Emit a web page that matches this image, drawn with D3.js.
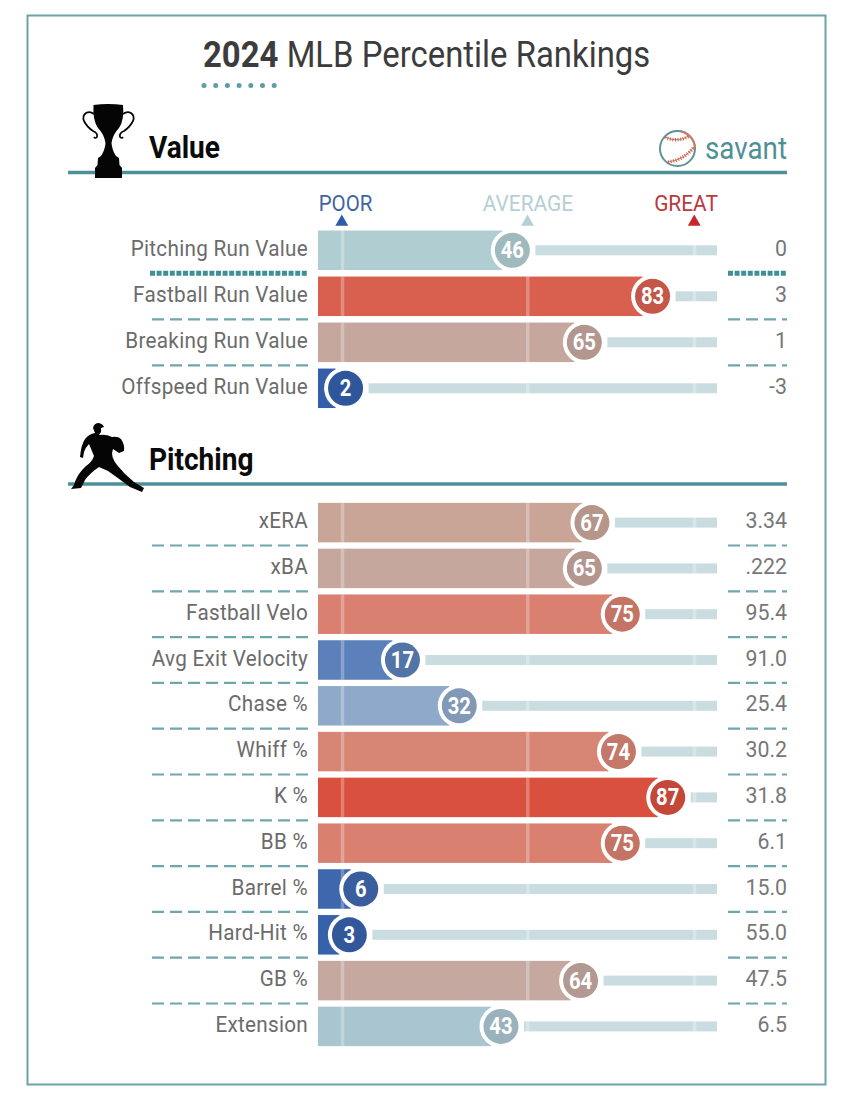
<!DOCTYPE html>
<html><head><meta charset="utf-8">
<script src="https://cdnjs.cloudflare.com/ajax/libs/d3/7.8.5/d3.min.js"></script>
<style>html,body{margin:0;padding:0;background:#fff}svg{display:block}text{font-family:Roboto,sans-serif}</style>
</head><body><svg id="c" width="850" height="1101"></svg>
<script>
const valueMetrics = ["Pitching Run Value","Fastball Run Value","Breaking Run Value","Offspeed Run Value"];
const valuePercentiles = [46,83,65,2];
const valueStats = ["0","3","1","-3"];
const pitchingMetrics = ["xERA","xBA","Fastball Velo","Avg Exit Velocity","Chase %","Whiff %","K %","BB %","Barrel %","Hard-Hit %","GB %","Extension"];
const pitchingPercentiles = [67,65,75,17,32,74,87,75,6,3,64,43];
const pitchingStats = ["3.34",".222","95.4","91.0","25.4","30.2","31.8","6.1","15.0","55.0","47.5","6.5"];
const guideLabels = ["POOR","AVERAGE","GREAT"];
const guideValues = [1,50,94];
const colorStops = [0,17,32,46,65,67,75,87,100];
const colorValues = ["#2f5aa8","#5c80b9","#8ea9c9","#b0cdd1","#c6a79e","#c9a598","#d98070","#d9503f","#d0302a"];

const svg = d3.select("#c");
const TEAL="#4b9198", DASH="#6ea6ad";
const x = d3.scaleLinear().domain([0,100]).range([338,717]);
const color = d3.scaleLinear().domain(colorStops).range(colorValues);
const rowsV = d3.scaleBand().domain(valueMetrics).range([227.3,411.3]).paddingInner(0);
const rowsP = d3.scaleBand().domain(pitchingMetrics).range([499.7,1049.3]).paddingInner(0);
const BAR=39.5, LEFT=318;

function ctext(parent,t,xx,y,size,fill,weight,anchor,sx){
  return parent.append("text").text(t).attr("transform",`translate(${xx},${y}) scale(${sx},1)`)
    .attr("font-size",size).attr("fill",fill).attr("font-weight",weight||400).attr("text-anchor",anchor||"start");
}
// frame
svg.append("rect").attr("x",27.5).attr("y",15.5).attr("width",798).attr("height",1069).attr("fill","#fff").attr("stroke","#6ba3a9").attr("stroke-width",2);
// title
const title = svg.append("text").attr("transform","translate(203,67) scale(.889,1)").attr("font-size",37).attr("fill","#3c3c3c");
title.append("tspan").attr("font-weight",700).text("2024");
title.append("tspan").text(" MLB Percentile Rankings");
svg.append("line").attr("x1",204).attr("x2",276).attr("y1",85.5).attr("y2",85.5).attr("stroke","#5a9ea6").attr("stroke-width",5).attr("stroke-linecap","round").attr("stroke-dasharray","0 11.7");

// section heads
function section(name,y,ty){
  svg.append("line").attr("x1",68).attr("x2",787).attr("y1",y).attr("y2",y).attr("stroke",TEAL).attr("stroke-width",3.5);
  ctext(svg,name,149,ty,31,"#0a0a0a",700,"start",.905);
}
section("Value",172.5,158);
section("Pitching",484,470);
// trophy icon
svg.append("path").attr("fill","#050505").attr("d","M93.5 105 Q108 103 123 105 Q124.5 120 119 128 Q113 134 111.5 143 Q112 150 116 156 L119 158 L119.5 165 L122 168 L122 178 L95 178 L95 168 L97.5 165 L98 158 L101 156 Q105 150 105.5 143 Q104 134 98 128 Q92.5 120 93.5 105Z");
svg.append("path").attr("fill","none").attr("stroke","#050505").attr("stroke-width",1.7)
 .attr("d","M94 114 Q90 111 86 113 Q82 116 84 121 Q87 127 93 131 Q98 133 97 137 Q95 139 94 137 M123 114 Q127 111 131 113 Q135 116 133 121 Q130 127 124 131 Q119 133 120 137 Q122 139 123 137");
// pitcher icon
svg.append("path").attr("fill","#050505").attr("d","M93 428 Q94 423 99 423 Q103 424 104 427 L101 428 L101 432 L99 435 Q106 434 112 437 Q118 436 121 439 Q125 445 124 451 L119 453 L113 449 Q110 456 117 465 Q125 475 134 482 L144 488 L142 492 L130 487 Q118 478 108 471 L99 467 Q90 473 85 480 L81 488 L71 489 L74 485 Q77 474 86 466 Q92 462 94 456 L89 444 Q85 448 84 452 L83 458 L80 457 Q81 445 85 439 Q89 434 95 433 Z");
// savant logo
svg.append("circle").attr("cx",677.5).attr("cy",148.5).attr("r",17.5).attr("fill","#fff").attr("stroke","#5f9398").attr("stroke-width",2);
svg.append("path").attr("fill","none").attr("stroke","#cf7b62").attr("stroke-width",2).attr("d","M681 131.5 A17.5 17.5 0 0 1 695 148");
const seam="M665 137 Q677 143 689 136 M668 162 Q684 160 694 147";
svg.append("path").attr("fill","none").attr("stroke","#d27a66").attr("stroke-width",1).attr("d",seam);
svg.append("path").attr("fill","none").attr("stroke","#c9604e").attr("stroke-width",3.5).attr("stroke-dasharray","1 1.6").attr("d",seam);
svg.append("text").attr("x",705).attr("y",159).attr("font-size",31).attr("fill","#4f9097").text("savant").attr("textLength",82).attr("lengthAdjust","spacingAndGlyphs");

// guide labels
const guideColors=["#3f659f","#b5cfd4","#b83a3e"], triColors=["#2f5aa8","#b5cfd4","#c8262e"];
const guideTextX=[345.5,528,686], guideScale=[.93,.95,.95];
guideLabels.forEach((g,i)=>{
  const gx=x(guideValues[i]);
  ctext(svg,g,guideTextX[i],210.5,22,guideColors[i],400,"middle",guideScale[i]);
  svg.append("path").attr("d",d3.symbol(d3.symbolTriangle,72)()).attr("fill",triColors[i]).attr("transform",`translate(${gx},222)`);
});

function rows(metrics,pcts,stats,band,firstDotted){
  metrics.forEach((m,i)=>{
    const p=pcts[i], cy=band(m)+band.bandwidth()/2, c=color(p), cx=x(p);
    const g=svg.append("g");
    g.append("rect").attr("x",LEFT).attr("y",cy-BAR/2).attr("width",Math.max(cx-10-LEFT,0)).attr("height",BAR).attr("fill",c);
    g.append("rect").attr("x",cx+23).attr("y",cy-5).attr("width",Math.max(x(100)-cx-23,0)).attr("height",10).attr("fill","#c9dde0");
    guideValues.forEach(v=>{
      g.append("rect").attr("x",x(v)-1.5+(v==1?0.5:0)).attr("width",3.5).attr("y",cy-BAR/2).attr("height",BAR).attr("fill","#fff").attr("opacity",.28);
    });
    g.append("circle").attr("cx",cx).attr("cy",cy).attr("r",21.5).attr("fill","#fff");
    g.append("circle").attr("cx",cx).attr("cy",cy).attr("r",17.5).attr("fill",d3.color(c).darker(.28));
    ctext(g,p,cx,cy+8,23,"#fff",700,"middle",.88);
    ctext(svg,m,308,cy+5.5,22,"#6b6b6b",400,"end",.94).attr("letter-spacing",.3);
    ctext(svg,stats[i],787,cy+5.5,22,"#777",400,"end",.97);
    if(i<metrics.length-1){
      const sy=cy+band.bandwidth()/2;
      const dotted=firstDotted&&i==0;
      [[dotted?150:152,308],[728,787]].forEach(([a,b])=>{
        svg.append("line").attr("x1",a).attr("x2",b).attr("y1",sy).attr("y2",sy).attr("stroke",dotted?"#3f8f96":DASH)
          .attr("stroke-width",dotted?5:2.2).attr("stroke-dasharray",dotted?"5 1.6":"12 6");
      });
    }
  });
}
rows(valueMetrics,valuePercentiles,valueStats,rowsV,true);
rows(pitchingMetrics,pitchingPercentiles,pitchingStats,rowsP,false);
</script></body></html>
